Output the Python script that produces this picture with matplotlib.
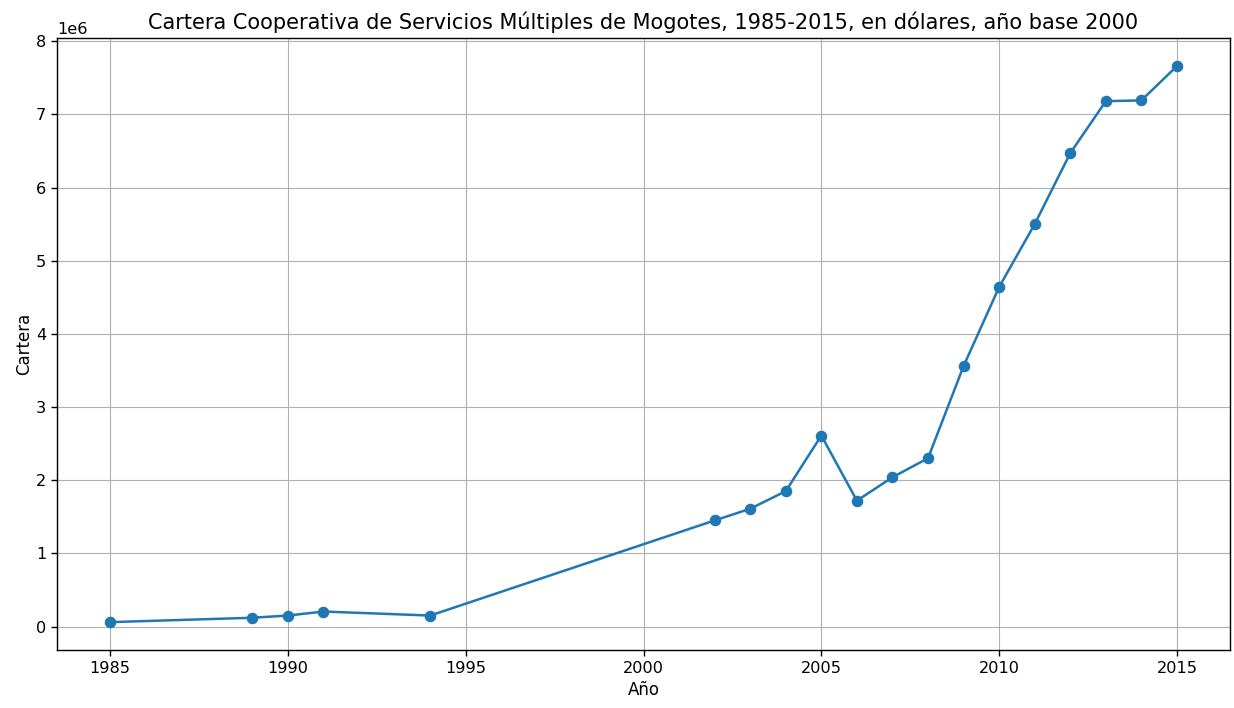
import matplotlib
matplotlib.use("Agg")
import matplotlib.pyplot as plt

# años y cartera (dólares, año base 2000)
anios = [1985, 1989, 1990, 1991, 1994, 2002, 2003, 2004, 2005, 2006,
         2007, 2008, 2009, 2010, 2011, 2012, 2013, 2014, 2015]
cartera = [0.06e6, 0.12e6, 0.15e6, 0.205e6, 0.15e6, 1.45e6, 1.61e6, 1.85e6,
           2.61e6, 1.72e6, 2.04e6, 2.30e6, 3.56e6, 4.64e6, 5.50e6, 6.47e6,
           7.18e6, 7.19e6, 7.66e6]

fig, ax = plt.subplots(figsize=(12.34, 7.08), dpi=100)
ax.plot(anios, cartera, marker="o", markersize=7.3, linewidth=1.8, color="#1f77b4")
ax.set_title("Cartera Cooperativa de Servicios Múltiples de Mogotes, 1985-2015, en dólares, año base 2000",
             fontsize=15, pad=7)
ax.set_xlabel("Año", fontsize=12, labelpad=4)
ax.set_ylabel("Cartera", fontsize=12, labelpad=2)
ax.tick_params(labelsize=11.6, length=4.2, width=1)
ax.yaxis.get_offset_text().set_fontsize(11.6)
ax.grid(True)
for s in ax.spines.values():
    s.set_linewidth(1)
plt.subplots_adjust(left=0.046, right=0.997, top=0.946, bottom=0.082)
fig.savefig("out.png", dpi=100)
